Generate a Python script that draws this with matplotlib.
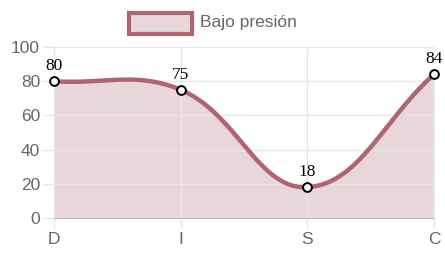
import numpy as np
import matplotlib
matplotlib.use("Agg")
import matplotlib.pyplot as plt
from matplotlib.patches import Rectangle

# data
categories = ["D", "I", "S", "C"]
values = [80, 75, 18, 84]
series_label = "Bajo presión"

line_color = "#b0656e"
fill_color = "#e8d7da"
grid_color = "#e6e6e6"
text_color = "#666666"

fig = plt.figure(figsize=(4.45, 2.61), dpi=100)
ax = fig.add_axes([54 / 445, 43 / 261, 380 / 445, 171 / 261])
ax.set_xlim(0, len(categories) - 1)
ax.set_ylim(0, 100)

# chart.js style spline (tension 0.4), computed in pixel space
xs = np.arange(len(values))
pts = ax.transData.transform(np.column_stack([xs, values]))
t = 0.4
n = len(pts)
cp_prev, cp_next = [], []
for i in range(n):
    p0 = pts[i - 1] if i > 0 else pts[i]
    p1 = pts[i]
    p2 = pts[i + 1] if i < n - 1 else pts[i]
    d01 = np.hypot(*(p1 - p0))
    d12 = np.hypot(*(p2 - p1))
    s01 = d01 / (d01 + d12) if d01 + d12 else 0
    s12 = d12 / (d01 + d12) if d01 + d12 else 0
    cp_prev.append(p1 - t * s01 * (p2 - p0))
    cp_next.append(p1 + t * s12 * (p2 - p0))

curve = []
u = np.linspace(0, 1, 60)[:, None]
for i in range(n - 1):
    a, b, c, d = pts[i], cp_next[i], cp_prev[i + 1], pts[i + 1]
    seg = (1 - u) ** 3 * a + 3 * (1 - u) ** 2 * u * b + 3 * (1 - u) * u ** 2 * c + u ** 3 * d
    curve.append(seg)
curve = np.vstack(curve)
curve = ax.transData.inverted().transform(curve)

ax.fill_between(curve[:, 0], curve[:, 1], 0, color=fill_color, lw=0, zorder=1)
ax.plot(curve[:, 0], curve[:, 1], color=line_color, lw=3.2, zorder=3, solid_capstyle="round")
ax.scatter(xs, values, s=40, facecolor="white", edgecolor="black", linewidth=1.4, zorder=4, clip_on=False)

for x, v in zip(xs, values):
    ax.annotate(str(v), (x, v), xytext=(0, 5), textcoords="offset points", ha="center", va="bottom",
                fontsize=12.5, family="Liberation Serif", color="black", zorder=5, annotation_clip=False)

ax.set_xticks(xs)
ax.set_xticklabels(categories)
ax.set_yticks(np.arange(0, 101, 20))
ax.grid(True, color=grid_color, lw=1, zorder=0)
for s in ["top", "right"]:
    ax.spines[s].set_visible(False)
ax.spines["left"].set_color(grid_color)
ax.spines["bottom"].set_color("#bbbbbb")
ax.tick_params(colors=grid_color, length=8, width=1, labelcolor=text_color, labelsize=12.5, pad=2)
for lbl in ax.get_xticklabels() + ax.get_yticklabels():
    lbl.set_family("Liberation Sans")

# legend
fig.patches.append(Rectangle((129 / 445, 1 - 34 / 261), 63 / 445, 21 / 261, transform=fig.transFigure,
                             facecolor=fill_color, edgecolor=line_color, lw=3))
fig.text(200 / 445, 1 - 22 / 261, series_label, ha="left", va="center", fontsize=12.5,
         family="Liberation Sans", color=text_color)

fig.savefig("out.png", dpi=100)
